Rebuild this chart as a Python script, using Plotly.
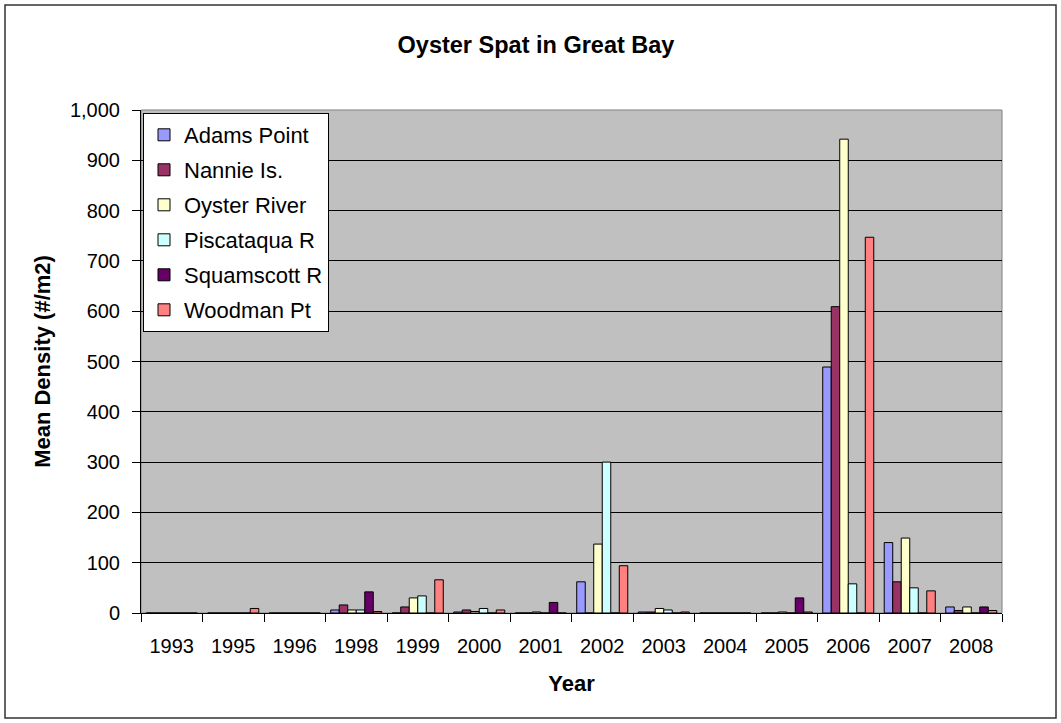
import plotly.graph_objects as go

# Survey years (category axis) and mean spat density per site (#/m2)
years = ["1993", "1995", "1996", "1998", "1999", "2000", "2001",
         "2002", "2003", "2004", "2005", "2006", "2007", "2008"]

adams_point = [0, 0, 0, 6, 0, 2, 0, 62, 2, 0, 0, 489, 140, 12]
nannie_is = [0, 0, 0, 16, 12, 6, 0, 0, 2, 0, 0, 609, 62, 5]
oyster_river = [0, 0, 0, 6, 30, 3, 2, 137, 9, 0, 2, 942, 149, 12]
piscataqua_r = [0, 0, 0, 6, 34, 9, 0, 300, 6, 0, 0, 58, 50, 0]
squamscott_r = [0, 0, 0, 42, 0, 0, 21, 0, 0, 0, 30, 0, 0, 12]
woodman_pt = [0, 9, 0, 3, 66, 6, 0, 94, 2, 0, 2, 747, 44, 5]

series = [
    ("Adams Point", adams_point, "#9999FF"),
    ("Nannie Is.", nannie_is, "#993366"),
    ("Oyster River", oyster_river, "#FFFFCC"),
    ("Piscataqua R", piscataqua_r, "#CCFFFF"),
    ("Squamscott R", squamscott_r, "#660066"),
    ("Woodman Pt", woodman_pt, "#FF8080"),
]

W, H = 1061, 723
ML, MR, MT, MB = 141, 59, 110, 110
PW, PH = W - ML - MR, H - MT - MB

FONT = "Arial, Liberation Sans, sans-serif"

fig = go.Figure()
for name, vals, color in series:
    fig.add_trace(go.Bar(
        name=name, x=years, y=vals,
        legendgroup=name,
        marker=dict(color=color, line=dict(color="black", width=1)),
    ))


def px_x(px):
    return (px - ML) / PW


def px_y(py):
    return (H - MB - py) / PH


fig.update_layout(
    width=W, height=H,
    margin=dict(l=ML, r=MR, t=MT, b=MB, pad=0),
    paper_bgcolor="white",
    plot_bgcolor="#C0C0C0",
    barmode="group",
    bargap=0.17,
    bargroupgap=0,
    font=dict(family=FONT, size=20, color="black"),
    title=dict(
        text="Oyster Spat in Great Bay",
        font=dict(family=FONT, size=23.5, color="black", weight="bold"),
        x=536 / W, xanchor="center",
        y=1 - 45 / H, yanchor="middle",
        xref="container", yref="container",
    ),
    legend=dict(
        x=px_x(143), y=px_y(113), xanchor="left", yanchor="top",
        bgcolor="white", bordercolor="black", borderwidth=1,
        font=dict(family=FONT, size=22, color="black"),
        tracegroupgap=3.4,
        traceorder="grouped",
    ),
    xaxis=dict(
        type="category",
        tickson="boundaries",
        ticks="outside", ticklen=8, tickcolor="black", tickwidth=1,
        showline=True, linecolor="black", linewidth=1,
        showgrid=False,
        ticklabelstandoff=15,
        tickfont=dict(family=FONT, size=20, color="black"),
        title=dict(text="Year", standoff=19,
                   font=dict(family=FONT, size=22, color="black", weight="bold")),
    ),
    yaxis=dict(
        range=[0, 1000], dtick=100, tickformat=",d",
        ticks="outside", ticklen=8, tickcolor="black", tickwidth=1,
        showline=True, linecolor="black", linewidth=1,
        showgrid=True, gridcolor="black", gridwidth=1,
        zeroline=False,
        ticklabelstandoff=8,
        tickfont=dict(family=FONT, size=20, color="black"),
        title=dict(text="Mean Density (#/m2)", standoff=13,
                   font=dict(family=FONT, size=22, color="black", weight="bold")),
    ),
    shapes=[
        # plot-area frame
        dict(type="rect", xref="paper", yref="paper", x0=0, x1=1, y0=0, y1=1,
             line=dict(color="#808080", width=1), layer="below"),
        # chart-area frame
        dict(type="rect", xref="paper", yref="paper",
             x0=px_x(5), x1=px_x(1056), y0=px_y(718), y1=px_y(5),
             line=dict(color="#333333", width=1.5)),
    ],
)

fig.write_html("out.html")
